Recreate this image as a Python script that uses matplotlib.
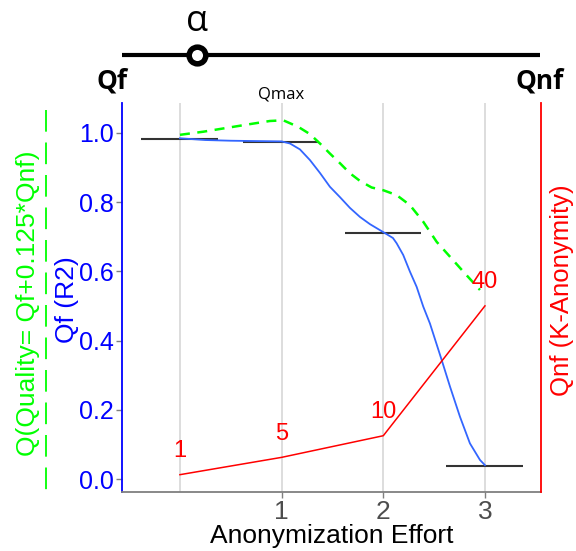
"""Quality vs anonymization effort, with the alpha slider on top"""
import matplotlib
matplotlib.use('Agg')
import matplotlib.pyplot as plt
from matplotlib.lines import Line2D

plt.rcParams['font.family'] = ['Liberation Sans', 'DejaVu Sans']

# effort levels and the values at them
effort = [0, 1, 2, 3]
qf = [0.981, 0.973, 0.711, 0.038]          # Qf (R2)
k_anon = [1, 5, 10, 40]                     # Qnf (K-Anonymity)
k_labels = ['1', '5', '10', '40']
effort_ticks = [1, 2, 3]

# smoothed Qf curve
qf_curve_x = [0, 0.25, 0.5, 0.75, 1.0, 1.082, 1.18, 1.279, 1.377, 1.475, 1.574,
              1.672, 1.77, 1.869, 2.0, 2.095, 2.131, 2.196, 2.262, 2.328, 2.393,
              2.459, 2.574, 2.656, 2.754, 2.852, 2.951, 3.0]
qf_curve_y = [0.984, 0.979, 0.977, 0.976, 0.975, 0.969, 0.952, 0.921, 0.884, 0.844,
              0.814, 0.783, 0.757, 0.736, 0.713, 0.696, 0.681, 0.647, 0.599, 0.555,
              0.498, 0.449, 0.344, 0.267, 0.180, 0.103, 0.055, 0.040]

# smoothed overall quality Q
q_curve_x = [0, 0.229, 0.459, 0.689, 0.885, 1.016, 1.164, 1.279, 1.377, 1.475,
             1.574, 1.672, 1.77, 1.885, 2.0, 2.131, 2.262, 2.393, 2.525, 2.656,
             2.787, 2.951]
q_curve_y = [0.994, 1.003, 1.014, 1.025, 1.034, 1.036, 1.017, 0.996, 0.969, 0.940,
             0.912, 0.883, 0.861, 0.842, 0.834, 0.820, 0.791, 0.743, 0.685, 0.642,
             0.599, 0.546]

BLUE = '#0000FF'
SMOOTH_BLUE = '#3366FF'
RED = '#FF0000'
GREEN = '#00FF00'
K_SCALE = 80.0   # secondary axis units per primary unit
SEG_LEFT, SEG_RIGHT = 0.38, 0.37

fig = plt.figure(figsize=(5.76, 5.51), dpi=100)
ax = fig.add_axes([0.2118, 0.1071, 0.7274, 0.706])
ax2 = ax.twinx()

ylo, yhi = -0.0375, 1.086
ax.set_xlim(-0.57, 3.551)
ax.set_ylim(ylo, yhi)
ax2.set_ylim(ylo * K_SCALE, yhi * K_SCALE)

for x in effort:
    ax.axvline(x, color='#DADADA', lw=1.3, zorder=0)

ax.hlines(qf, [x - SEG_LEFT for x in effort], [x + SEG_RIGHT for x in effort],
          color='#333333', lw=1.5, zorder=2)
ax.plot(qf_curve_x, qf_curve_y, color=SMOOTH_BLUE, lw=1.3, zorder=3)
ax.plot(q_curve_x, q_curve_y, color=GREEN, lw=1.8, ls=(0, (4, 3)), zorder=3)

ax2.plot(effort, k_anon, color=RED, lw=1.1)
for x, k, lab in zip(effort, k_anon, k_labels):
    ax2.annotate(lab, (x, k), xytext=(0, 17), textcoords='offset points',
                 ha='center', va='center', color=RED, fontsize=17)

ax.text(1, yhi, 'Qmax', ha='center', va='bottom', fontsize=12,
        family=['Open Sans', 'DejaVu Sans'])

# axes styling
ax.set_xticks(effort_ticks)
ax.set_xticklabels([str(t) for t in effort_ticks])
ax.tick_params(axis='x', colors='#7F7F7F', labelcolor='#4D4D4D', labelsize=19,
               length=4, width=1, pad=2)
ax.set_yticks([0.0, 0.2, 0.4, 0.6, 0.8, 1.0])
ax.set_yticklabels(['0.0', '0.2', '0.4', '0.6', '0.8', '1.0'])
ax.tick_params(axis='y', colors='#7F7F7F', labelcolor=BLUE, labelsize=18,
               length=4, width=1, pad=2)
ax2.set_yticks([])
for s in ['top', 'right']:
    ax.spines[s].set_visible(False)
ax.spines['left'].set_color(BLUE)
ax.spines['left'].set_linewidth(1.3)
ax.spines['bottom'].set_color('#7F7F7F')
ax.spines['bottom'].set_linewidth(1.3)
for s in ['top', 'left', 'bottom']:
    ax2.spines[s].set_visible(False)
ax2.spines['right'].set_color(RED)
ax2.spines['right'].set_linewidth(1.3)

ax.set_xlabel('Anonymization Effort', fontsize=19, labelpad=0)

fig.text(67 / 576, 1 - 300 / 551, 'Qf (R2)', rotation=90, color=BLUE,
         fontsize=19, ha='center', va='center')
fig.text(28 / 576, 1 - 303 / 551, 'Q(Quality= Qf+0.125*Qnf)', rotation=90,
         color=GREEN, fontsize=19, ha='center', va='center')
fig.add_artist(Line2D([46 / 576, 46 / 576], [1 - 110 / 551, 1 - 493 / 551],
                      color=GREEN, lw=1.3, ls=(0, (12, 6))))
fig.text(562 / 576, 1 - 290 / 551, 'Qnf (K-Anonymity)', rotation=90, color=RED,
         fontsize=18.5, ha='center', va='center')

# alpha slider on top
fig.add_artist(Line2D([122 / 576, 540 / 576], [1 - 55 / 551, 1 - 55 / 551],
                      color='black', lw=3, solid_capstyle='butt'))
fig.add_artist(Line2D([197 / 576], [1 - 55 / 551], marker='o', markersize=12,
                      markerfacecolor='white', markeredgecolor='black',
                      markeredgewidth=4))
fig.text(197 / 576, 1 - 22 / 551, 'α', ha='center', va='center', fontsize=26,
         family=['Open Sans', 'DejaVu Sans'])
fig.text(112 / 576, 1 - 81 / 551, 'Qf', ha='center', va='center', fontsize=19,
         fontweight='bold', family=['Open Sans', 'DejaVu Sans'])
fig.text(540 / 576, 1 - 81 / 551, 'Qnf', ha='center', va='center', fontsize=19,
         fontweight='bold', family=['Open Sans', 'DejaVu Sans'])

fig.savefig('out.png', dpi=100)
